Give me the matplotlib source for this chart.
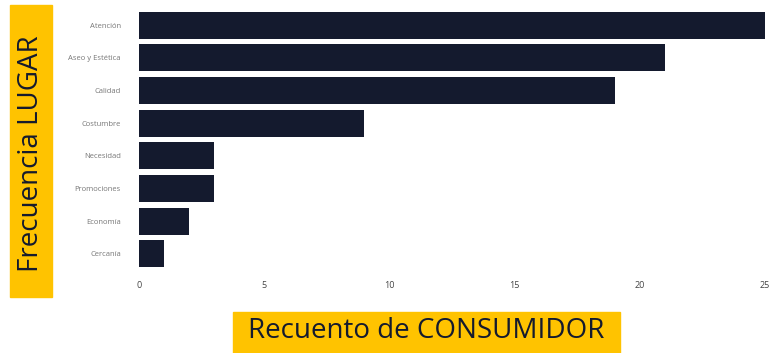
import matplotlib.pyplot as plt
from matplotlib.patches import Rectangle

lugares = ["Atención", "Aseo y Estética", "Calidad", "Costumbre",
           "Necesidad", "Promociones", "Economía", "Cercanía"]
recuento = [25, 21, 19, 9, 3, 3, 2, 1]
xticks = [0, 5, 10, 15, 20, 25]

W, H = 775, 353
bar_color = "#141a2e"
yellow = "#ffc300"

fig = plt.figure(figsize=(W / 100, H / 100), dpi=100)
ax = fig.add_axes([139 / W, 1 - 270 / H, 626 / W, 261 / H])

ax.barh(range(len(lugares)), recuento, height=0.83, color=bar_color)
ax.set_ylim(len(lugares) - 0.5, -0.5)
ax.set_xlim(0, 25)
ax.set_yticks(range(len(lugares)))
ax.set_yticklabels(lugares, fontsize=5.5, color="#777777", family="Open Sans")
ax.set_xticks(xticks)
ax.set_xticklabels([str(t) for t in xticks], fontsize=6.5, color="#444444",
                   family="Open Sans")
ax.tick_params(axis="y", length=0, pad=13)
ax.tick_params(axis="x", length=0, pad=8)
for s in ax.spines.values():
    s.set_visible(False)

# yellow label boxes
fig.patches.append(Rectangle((10 / W, 1 - 297 / H), 42 / W, 292 / H,
                             transform=fig.transFigure, color=yellow, zorder=0))
fig.patches.append(Rectangle((233 / W, 0), 387 / W, 41 / H,
                             transform=fig.transFigure, color=yellow, zorder=0))

fig.text(31 / W, 1 - 154 / H, "Frecuencia LUGAR", rotation=90,
         ha="center", va="center", fontsize=20, color=bar_color, family="Open Sans")
fig.text(426.5 / W, 1 - 331 / H, "Recuento de CONSUMIDOR",
         ha="center", va="center", fontsize=20, color=bar_color, family="Open Sans")

fig.savefig("out.png", dpi=100)
